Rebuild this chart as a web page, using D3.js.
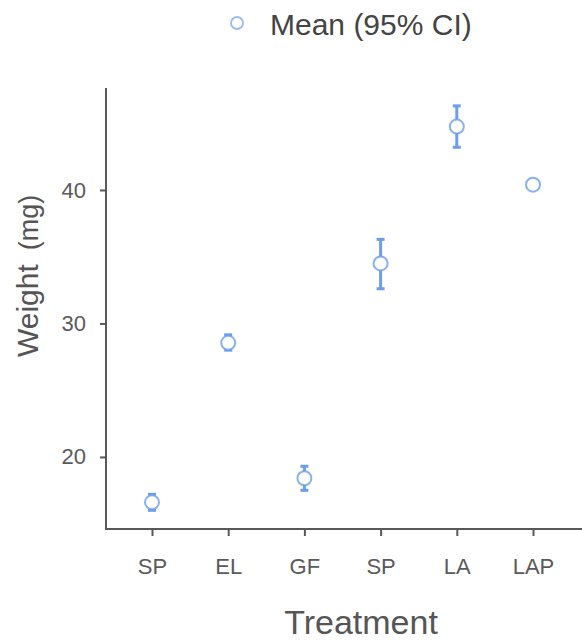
<!DOCTYPE html>
<html>
<head>
<meta charset="utf-8">
<script src="https://cdn.jsdelivr.net/npm/d3@7"></script>
<style>
  body { margin: 0; background: #fff; }
  text { font-family: "Liberation Sans", Arial, sans-serif; }
</style>
</head>
<body>
<script>
// data
var treatments = ['SP', 'EL', 'GF', 'SP', 'LA', 'LAP'];
var means = [16.6, 28.55, 18.4, 34.5, 44.75, 40.4];
var ciLow = [16.0, 28.0, 17.5, 32.6, 43.2, 40.4];
var ciHigh = [17.2, 29.15, 19.3, 36.3, 46.3, 40.4];
var yTicks = [20, 30, 40];

var width = 582, height = 644;
var blue = '#6d9eeb';
var axisColor = '#595959';

var svg = d3.select('body').append('svg')
  .attr('width', width)
  .attr('height', height);

var x = d3.scalePoint()
  .domain(d3.range(treatments.length))
  .range([152, 533]);

var y = d3.scaleLinear()
  .domain([14.6, 47.64])
  .range([529, 88]);

// y axis
var yAxis = svg.append('g')
  .attr('transform', 'translate(106,0)')
  .call(d3.axisLeft(y).tickValues(yTicks).tickSize(6).tickPadding(14));
yAxis.select('.domain').remove();
yAxis.append('line')
  .attr('x1', 0).attr('x2', 0)
  .attr('y1', 88).attr('y2', 530)
  .attr('stroke', axisColor).attr('stroke-width', 2);
yAxis.selectAll('.tick line').attr('stroke', axisColor).attr('stroke-width', 2);
yAxis.selectAll('.tick text')
  .attr('fill', '#5a5a5a')
  .style('font-size', '22px')
  .style('font-family', '"Liberation Sans", Arial, sans-serif');

// x axis
var xAxis = svg.append('g')
  .attr('transform', 'translate(0,529)')
  .call(d3.axisBottom(x).tickFormat(function(i) { return treatments[i]; }).tickSize(7).tickPadding(22));
xAxis.select('.domain').remove();
xAxis.append('line')
  .attr('x1', 105).attr('x2', width)
  .attr('y1', 0).attr('y2', 0)
  .attr('stroke', axisColor).attr('stroke-width', 2);
xAxis.selectAll('.tick line').attr('stroke', axisColor).attr('stroke-width', 2);
xAxis.selectAll('.tick text')
  .attr('fill', '#5a5a5a')
  .style('font-size', '22px')
  .style('font-family', '"Liberation Sans", Arial, sans-serif');

// axis titles
svg.append('text')
  .attr('x', 361).attr('y', 634)
  .attr('text-anchor', 'middle')
  .attr('fill', '#555')
  .style('font-size', '34px')
  .text('Treatment');

var yTitle = svg.append('text')
  .attr('transform', 'translate(38,357) rotate(-90)')
  .attr('text-anchor', 'start')
  .attr('fill', '#555')
  .style('font-size', '30px');
yTitle.append('tspan').text('Weight');
yTitle.append('tspan').attr('dx', 14).style('font-size', '27px').text('(mg)');

// error bars
var pts = svg.append('g');
var idx = d3.range(treatments.length).filter(function(i) { return ciHigh[i] > ciLow[i]; });

pts.selectAll('line.bar')
  .data(idx)
  .enter().append('line')
  .attr('class', 'bar')
  .attr('x1', function(i) { return x(i); })
  .attr('x2', function(i) { return x(i); })
  .attr('y1', function(i) { return y(ciLow[i]); })
  .attr('y2', function(i) { return y(ciHigh[i]); })
  .attr('stroke', blue).attr('stroke-width', 3);

pts.selectAll('line.capTop')
  .data(idx)
  .enter().append('line')
  .attr('class', 'capTop')
  .attr('x1', function(i) { return x(i) - 4; })
  .attr('x2', function(i) { return x(i) + 4; })
  .attr('y1', function(i) { return y(ciHigh[i]); })
  .attr('y2', function(i) { return y(ciHigh[i]); })
  .attr('stroke', blue).attr('stroke-width', 3);

pts.selectAll('line.capBot')
  .data(idx)
  .enter().append('line')
  .attr('class', 'capBot')
  .attr('x1', function(i) { return x(i) - 4; })
  .attr('x2', function(i) { return x(i) + 4; })
  .attr('y1', function(i) { return y(ciLow[i]); })
  .attr('y2', function(i) { return y(ciLow[i]); })
  .attr('stroke', blue).attr('stroke-width', 3);

// mean points
pts.selectAll('circle')
  .data(means)
  .enter().append('circle')
  .attr('cx', function(d, i) { return x(i); })
  .attr('cy', function(d) { return y(d); })
  .attr('r', 7)
  .attr('fill', '#fff')
  .attr('stroke', blue)
  .attr('stroke-opacity', 0.8)
  .attr('stroke-width', 2);

// legend
svg.append('circle')
  .attr('cx', 237).attr('cy', 23)
  .attr('r', 6)
  .attr('fill', '#fff')
  .attr('stroke', blue)
  .attr('stroke-opacity', 0.7)
  .attr('stroke-width', 1.8);

svg.append('text')
  .attr('x', 270).attr('y', 35)
  .attr('fill', '#444')
  .style('font-size', '30px')
  .text('Mean (95% CI)');
</script>
</body>
</html>
